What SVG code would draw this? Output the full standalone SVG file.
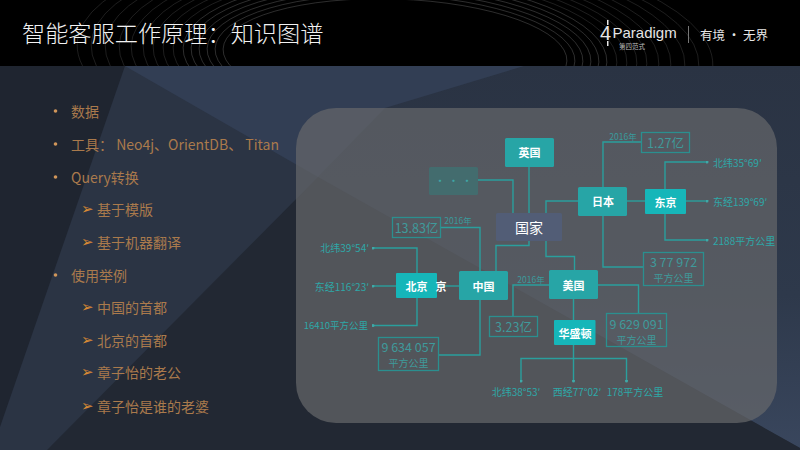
<svg xmlns="http://www.w3.org/2000/svg" width="800" height="450" viewBox="0 0 800 450">
<style>
text{font-family:"Noto Sans CJK SC","Noto Sans",sans-serif}
.l{fill:none;stroke:#2a9f9d;stroke-width:1.4}
.b{fill:none;stroke:#2b8f8f;stroke-width:1.3}
.t{fill:#2ea8a8;font-size:10px;dominant-baseline:central}
.v{fill:#3f9a9b;font-size:12.5px;text-anchor:middle;dominant-baseline:central}
.u{fill:#3f9a9b;font-size:10px;text-anchor:middle;dominant-baseline:central}
.y{fill:#3a9a9c;font-size:8.5px;text-anchor:middle;dominant-baseline:central}
.n{fill:#fff;font-size:11px;font-weight:700;text-anchor:middle;dominant-baseline:central}
.i{fill:#aa7a4c;font-size:14px;dominant-baseline:central}
.g{fill:#d98a35;font-size:15px;dominant-baseline:central;font-family:"DejaVu Sans",sans-serif}
.arc{fill:none;stroke:#fff;stroke-width:.8}
</style>
<defs>
<marker id="d" viewBox="0 0 4 4" refX="2" refY="2" markerWidth="3" markerHeight="3" markerUnits="userSpaceOnUse"><circle cx="2" cy="2" r="2" fill="#3fa9a8"/></marker>
<clipPath id="h"><rect width="800" height="66"/></clipPath>
<linearGradient id="r" x1="0" y1="0" x2="0" y2="1"><stop offset="0" stop-color="#2a3343"/><stop offset=".6" stop-color="#2e394b"/><stop offset="1" stop-color="#39465d"/></linearGradient>
</defs>
<rect width="800" height="450" fill="#1f2530"/>
<polygon points="125,66 800,66 800,450 0,450 0,427" fill="#2b3444"/>
<polygon points="524,66 800,66 800,448 318,177 385,108" fill="url(#r)"/>
<polygon points="125,66 524,66 385,108 318,177" fill="#323e54"/>
<polygon points="318,177 800,448 800,450 47,450" fill="#222833"/>
<rect width="800" height="66" fill="#000"/>
<g clip-path="url(#h)">
<g class="arc" transform="rotate(2 395 55)" stroke-opacity=".22">
<ellipse cx="395" cy="55" rx="172" ry="56"/><ellipse cx="395" cy="55" rx="180" ry="60"/><ellipse cx="395" cy="55" rx="188" ry="64"/><ellipse cx="395" cy="55" rx="196" ry="68"/><ellipse cx="395" cy="55" rx="204" ry="72"/><ellipse cx="395" cy="55" rx="212" ry="76"/>
</g>
<g class="arc" transform="rotate(2 395 55)" stroke-opacity=".15">
<ellipse cx="395" cy="55" rx="222" ry="80"/><ellipse cx="395" cy="55" rx="232" ry="84"/><ellipse cx="395" cy="55" rx="242" ry="88"/><ellipse cx="395" cy="55" rx="252" ry="92"/><ellipse cx="395" cy="55" rx="264" ry="96"/><ellipse cx="395" cy="55" rx="276" ry="100"/><ellipse cx="395" cy="55" rx="290" ry="104"/><ellipse cx="395" cy="55" rx="304" ry="108"/><ellipse cx="395" cy="55" rx="318" ry="112"/>
</g>
</g>
<text x="22" y="32" fill="#f2f2f2" font-size="23.2" font-weight="300" dominant-baseline="central">智能客服工作原理：知识图谱</text>
<g id="logo" fill="#e6e6e6">
<text x="600" y="33" font-size="20" style="font-family:'Liberation Sans',sans-serif" dominant-baseline="central">4</text>
<rect x="607" y="20" width="1.500" height="5"/><rect x="607" y="41" width="1.500" height="5"/>
<text x="612.500" y="32" font-size="15" style="font-family:'Liberation Sans',sans-serif" dominant-baseline="central">Paradigm</text>
<text x="619" y="45.500" font-size="6.500" fill="#bbb" dominant-baseline="central">第四范式</text>
<rect x="688" y="26" width="1" height="17" fill="#777"/>
<text x="700" y="34" font-size="12.500" dominant-baseline="central">有境 · 无界</text>
</g>
<g id="list">
<circle cx="55.500" cy="111" r="1.800" fill="#d0965a"/><text class="i" x="71" y="111">数据</text>
<circle cx="55.500" cy="144" r="1.800" fill="#d0965a"/><text class="i" x="71" y="144">工具： Neo4j、OrientDB、 Titan</text>
<circle cx="55.500" cy="177" r="1.800" fill="#d0965a"/><text class="i" x="71" y="177">Query转换</text>
<circle cx="55.500" cy="275" r="1.800" fill="#d0965a"/><text class="i" x="71" y="275">使用举例</text>
<text class="g" x="81" y="209">➢</text><text class="g" x="81" y="242">➢</text><text class="g" x="81" y="307">➢</text><text class="g" x="81" y="340">➢</text><text class="g" x="81" y="372">➢</text><text class="g" x="81" y="406">➢</text>
<text class="i" x="97" y="209">基于模版</text>
<text class="i" x="97" y="242">基于机器翻译</text>
<text class="i" x="97" y="307">中国的首都</text>
<text class="i" x="97" y="340">北京的首都</text>
<text class="i" x="97" y="372">章子怡的老公</text>
<text class="i" x="97" y="406">章子怡是谁的老婆</text>
</g>
<rect id="panel" x="296" y="108" width="481" height="315" rx="40" fill="#67686b" fill-opacity=".7"/>
<g id="connectors">
<path class="l" d="M478 180H513V213"/>
<path class="l" d="M529 167V213"/>
<path class="l" d="M529 241V245.500H496V271"/>
<path class="l" d="M578 201H546V213"/>
<path class="l" d="M546 241V256.500H574.500V270"/>
<path class="l" d="M441 227.500H480V271"/>
<path class="l" d="M417 273V248H373" marker-end="url(#d)"/>
<path class="l" d="M396 286H373" marker-end="url(#d)"/>
<path class="l" d="M437 286H459"/>
<path class="l" d="M417 298V325.500H373" marker-end="url(#d)"/>
<path class="l" d="M439 355H480V299"/>
<path class="l" d="M549 285H513V316"/>
<path class="l" d="M598 285H638.500V313"/>
<path class="l" d="M573.500 299V320"/>
<path class="l" d="M573.500 345V381" marker-end="url(#d)"/>
<path class="l" d="M573.500 358.500H521V381" marker-end="url(#d)"/>
<path class="l" d="M573.500 358.500H626.500V381" marker-end="url(#d)"/>
<path class="l" d="M603 187V142H641"/>
<path class="l" d="M603 216V267H643"/>
<path class="l" d="M627 201H645"/>
<path class="l" d="M665 189V162H707" marker-end="url(#d)"/>
<path class="l" d="M686 201H707" marker-end="url(#d)"/>
<path class="l" d="M665 214V240H707" marker-end="url(#d)"/>
</g>
<g id="n-uk"><rect x="505" y="138" width="49" height="29" rx="1.500" fill="#27a5a6"/><text class="n" x="529.500" y="152">英国</text></g>
<g id="n-etc"><rect x="429" y="167" width="49" height="28" rx="1.500" fill="#436c6e"/><text x="453.500" y="180" fill="#3fa5a5" font-size="11" text-anchor="middle" dominant-baseline="central">· · ·</text></g>
<g id="n-country"><rect x="496" y="213" width="66" height="28" rx="1.500" fill="#525d76"/><text x="529" y="227" fill="#fff" font-size="14" text-anchor="middle" dominant-baseline="central">国家</text></g>
<g id="n-japan"><rect x="578" y="187" width="49" height="29" rx="1.500" fill="#27a5a6"/><text class="n" x="603" y="201">日本</text></g>
<g id="n-tokyo"><rect x="645" y="189" width="41" height="25" rx="1" fill="#16b6b9"/><text class="n" x="665.500" y="201.500" font-size="10.500">东京</text></g>
<g id="n-beijing"><rect x="396" y="273" width="41" height="25" rx="1" fill="#16b6b9"/><text class="n" x="416.500" y="285.500">北京</text></g>
<text class="n" x="441" y="286" font-size="9.500">京</text>
<g id="n-china"><rect x="459" y="271" width="49" height="29" rx="1.500" fill="#27a5a6"/><text class="n" x="483.500" y="286">中国</text></g>
<g id="n-usa"><rect x="549" y="270" width="49" height="29" rx="1.500" fill="#27a5a6"/><text class="n" x="573.500" y="285">美国</text></g>
<g id="n-dc"><rect x="554" y="320" width="41.500" height="25" rx="1" fill="#16b6b9"/><text class="n" x="575" y="332.500" font-size="10">华盛顿</text></g>
<g id="v-cn-pop"><rect class="b" x="392.500" y="217.500" width="48" height="20"/><text class="v" x="416.500" y="227.500">13.83亿</text></g>
<g id="v-jp-pop"><rect class="b" x="641.500" y="132.500" width="48" height="20"/><text class="v" x="665.500" y="142">1.27亿</text></g>
<g id="v-us-pop"><rect class="b" x="489.500" y="316.500" width="48" height="20"/><text class="v" x="513.500" y="326">3.23亿</text></g>
<g id="v-jp-area"><rect class="b" x="643.500" y="252.500" width="60" height="33"/><text class="v" x="673.500" y="261.500">3 77 972</text><text class="u" x="673.500" y="277">平方公里</text></g>
<g id="v-cn-area"><rect class="b" x="378.500" y="337.500" width="60" height="33"/><text class="v" x="408.500" y="346.500">9 634 057</text><text class="u" x="408.500" y="362">平方公里</text></g>
<g id="v-us-area"><rect class="b" x="606.500" y="313.500" width="60" height="33"/><text class="v" x="636.500" y="323">9 629 091</text><text class="u" x="636.500" y="339">平方公里</text></g>
<g id="labels">
<text class="y" x="458" y="220">2016年</text>
<text class="y" x="623" y="136">2016年</text>
<text class="y" x="531" y="279">2016年</text>
<text class="t" x="713" y="162">北纬35°69′</text>
<text class="t" x="713" y="201">东经139°69′</text>
<text class="t" x="713" y="240">2188平方公里</text>
<text class="t" x="369" y="247" text-anchor="end">北纬39°54′</text>
<text class="t" x="369" y="286" text-anchor="end">东经116°23′</text>
<text class="t" x="368" y="325" text-anchor="end" style="font-size:9.500px">16410平方公里</text>
<text class="t" x="516" y="391" text-anchor="middle">北纬38°53′</text>
<text class="t" x="577" y="391" text-anchor="middle">西经77°02′</text>
<text class="t" x="635" y="391" text-anchor="middle">178平方公里</text>
</g>
</svg>
